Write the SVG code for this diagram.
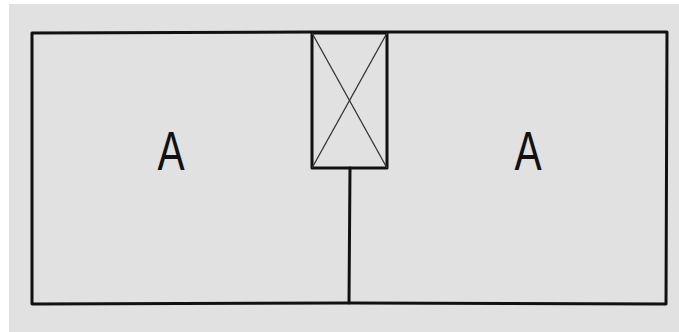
<svg xmlns="http://www.w3.org/2000/svg" width="679" height="332" viewBox="0 0 679 332">
<style>
.wall{fill:none;stroke:#111;stroke-width:3;stroke-linejoin:round;stroke-linecap:round}
.thin{fill:none;stroke:#333;stroke-width:1.3}
.lbl{font-family:"Liberation Sans",Arial,sans-serif;font-size:55px;font-weight:normal;fill:#111;text-anchor:middle}
</style>
<rect x="0" y="0" width="679" height="332" fill="#ffffff"/>
<rect x="9" y="4" width="670" height="328" fill="#e1e1e1"/>
<g id="plan">
<path class="wall" d="M32,33 L312,32 L388,32 L667,32 L666,304 L350,303 L32,304 Z"/>
<rect id="box" class="wall" x="312" y="33" width="75" height="135"/>
<line class="thin" x1="312" y1="33" x2="387" y2="168"/>
<line class="thin" x1="387" y1="33" x2="312" y2="168"/>
<line class="wall" x1="350" y1="168" x2="349" y2="303"/>
</g>
<g id="labels">
<text class="lbl" transform="translate(171,170) scale(0.74,1)">A</text>
<text class="lbl" transform="translate(528,170) scale(0.74,1)">A</text>
</g>
</svg>
